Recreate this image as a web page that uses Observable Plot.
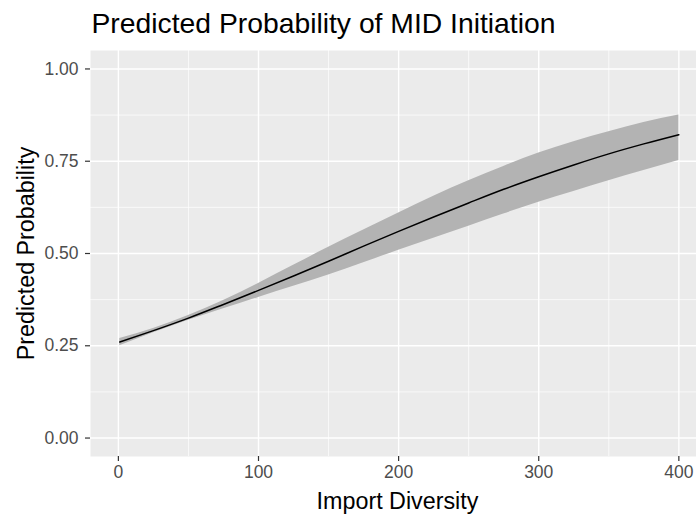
<!DOCTYPE html>
<html>
<head>
<meta charset="utf-8">
<script src="https://cdn.jsdelivr.net/npm/d3@7"></script>
<script src="https://cdn.jsdelivr.net/npm/@observablehq/plot@0.6"></script>
<style>
  html, body { margin: 0; padding: 0; background: #ffffff; }
  #chart svg { display: block; }
</style>
</head>
<body>
<div id="chart"></div>
<script>
// Predicted probability of MID initiation across import diversity,
// with its confidence band.
const importDiversity = [1, 25, 50, 75, 100, 125, 150, 175, 200, 225, 250, 275, 300, 325, 350, 375, 400];
const predicted = [0.260, 0.291, 0.325, 0.362, 0.400, 0.439, 0.479, 0.520, 0.560, 0.599, 0.637, 0.674, 0.708, 0.740, 0.770, 0.797, 0.822];
const lower     = [0.250, 0.285, 0.319, 0.350, 0.381, 0.411, 0.442, 0.475, 0.509, 0.541, 0.574, 0.607, 0.639, 0.668, 0.697, 0.725, 0.752];
const upper     = [0.270, 0.297, 0.332, 0.373, 0.419, 0.468, 0.517, 0.564, 0.610, 0.655, 0.697, 0.736, 0.772, 0.803, 0.830, 0.855, 0.875];

// Axis breaks
const xTicks = [0, 100, 200, 300, 400];
const xMinor = [50, 150, 250, 350];
const yTicks = [0, 0.25, 0.5, 0.75, 1];
const yMinor = [0.125, 0.375, 0.625, 0.875];

const titleText = "Predicted Probability of MID Initiation";
const xTitle = "Import Diversity";
const yTitle = "Predicted Probability";

const rows = importDiversity.map((x, i) => ({x, fit: predicted[i], lo: lower[i], hi: upper[i]}));

const font = "'Liberation Sans', Arial, Helvetica, sans-serif";

const chart = Plot.plot({
  width: 696,
  height: 515,
  marginLeft: 90,
  marginRight: 0,
  marginTop: 50,
  marginBottom: 59,
  style: {fontFamily: font, background: "#ffffff"},
  x: {domain: [-19.9, 412.6], axis: null},
  y: {domain: [-0.05, 1.05], axis: null},
  marks: [
    Plot.frame({fill: "#EBEBEB", stroke: null}),
    Plot.ruleX(xMinor, {stroke: "#ffffff", strokeWidth: 0.7}),
    Plot.ruleY(yMinor, {stroke: "#ffffff", strokeWidth: 0.7}),
    Plot.ruleX(xTicks, {stroke: "#ffffff", strokeWidth: 1.4}),
    Plot.ruleY(yTicks, {stroke: "#ffffff", strokeWidth: 1.4}),
    Plot.areaY(rows, {x: "x", y1: "lo", y2: "hi", fill: "#B3B3B3", curve: "monotone-x"}),
    Plot.line(rows, {x: "x", y: "fit", stroke: "#000000", strokeWidth: 1.5, curve: "monotone-x"}),
    Plot.axisX(xTicks, {
      tickSize: 5, tickPadding: 4, stroke: "#333333", fill: "#4D4D4D",
      fontSize: 17.5, label: null, tickFormat: d3.format("d"), strokeWidth: 1.2
    }),
    Plot.axisY(yTicks, {
      tickSize: 5, tickPadding: 7, stroke: "#333333", fill: "#4D4D4D",
      fontSize: 17.5, label: null, tickFormat: d3.format(".2f"), strokeWidth: 1.2
    }),
    Plot.text([titleText], {
      frameAnchor: "top-left", textAnchor: "start", lineAnchor: "bottom",
      dx: 1, dy: -17.3, fontSize: 28.3, fill: "#000000"
    }),
    Plot.text([xTitle], {
      frameAnchor: "bottom", textAnchor: "middle", lineAnchor: "bottom",
      dx: 4, dy: 52, fontSize: 23.3, fill: "#000000"
    }),
    Plot.text([yTitle], {
      frameAnchor: "left", textAnchor: "middle", lineAnchor: "bottom",
      rotate: -90, dx: -57, fontSize: 23.3, fill: "#000000"
    })
  ]
});

document.getElementById("chart").appendChild(chart);
</script>
</body>
</html>
